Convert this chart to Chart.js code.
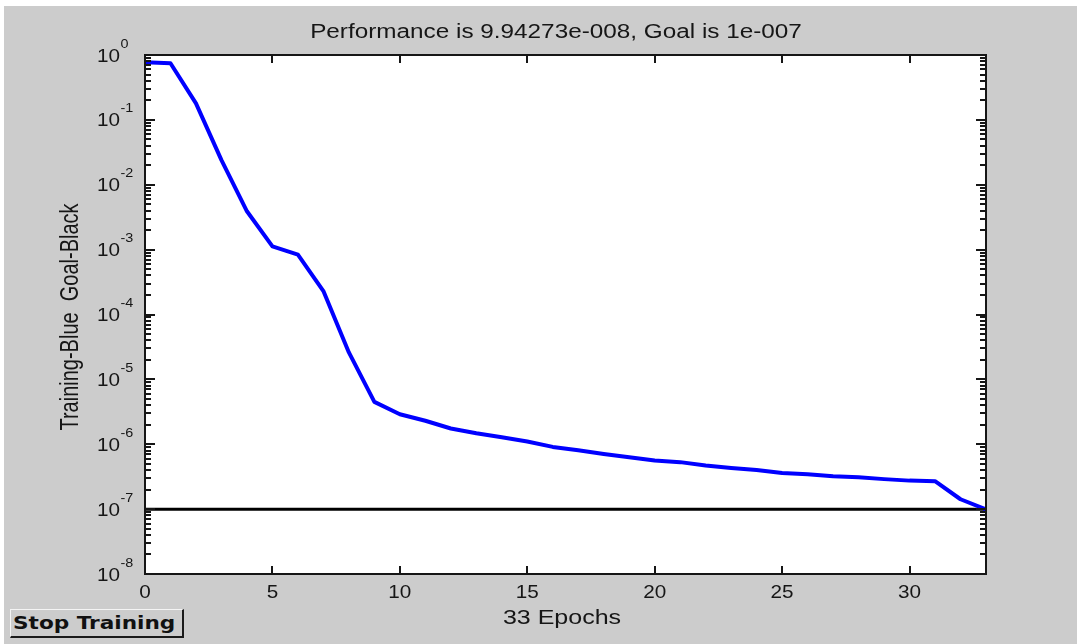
<!DOCTYPE html>
<html>
<head>
<meta charset="utf-8">
<script src="https://cdn.jsdelivr.net/npm/chart.js@4/dist/chart.umd.min.js"></script>
<style>
  html, body { margin: 0; padding: 0; background: #cccccc; }
  #wrap { position: relative; width: 1077px; height: 644px; overflow: hidden; }
  canvas { position: absolute; left: 0; top: 0; }
  #stop {
    position: absolute; left: 10px; top: 609px; width: 174px; height: 29px;
    background: #cccccc; box-sizing: border-box;
    border-top: 1px solid #f4f4f4; border-left: 1px solid #f4f4f4;
    border-right: 2px solid #1a1a1a; border-bottom: 2px solid #1a1a1a;
    font: bold 18px "DejaVu Sans", sans-serif; color: #111;
    line-height: 26px; white-space: nowrap;
  }
  #stop span { display: inline-block; transform: scaleX(1.2); transform-origin: left center; margin-left: 2px; }
</style>
</head>
<body>
<div id="wrap">
  <canvas id="c" width="1077" height="644"></canvas>
  <div id="stop"><span>Stop Training</span></div>
</div>
<script>
// ---- data ----
const epochs = [0,1,2,3,4,5,6,7,8,9,10,11,12,13,14,15,16,17,18,19,20,21,22,23,24,25,26,27,28,29,30,31,32,33];
const trainingPerf = [0.77, 0.745, 0.18, 0.024, 0.0039, 0.00112, 0.00084, 2.3e-4, 2.6e-5, 4.5e-6,
  2.9e-6, 2.3e-6, 1.75e-6, 1.48e-6, 1.28e-6, 1.1e-6, 9.1e-7, 8.1e-7, 7.1e-7, 6.3e-7,
  5.6e-7, 5.3e-7, 4.7e-7, 4.3e-7, 4.0e-7, 3.6e-7, 3.45e-7, 3.2e-7, 3.1e-7, 2.9e-7,
  2.75e-7, 2.7e-7, 1.42e-7, 9.94273e-8];
const goalValue = 1e-7;
const goalEpochs = [0, 33];
const xTicks = [0, 5, 10, 15, 20, 25, 30];
const yTickExponents = [-8, -7, -6, -5, -4, -3, -2, -1, 0];
const titleText = "Performance is 9.94273e-008, Goal is 1e-007";
const xTitle = "33 Epochs";
const yTitle = "Training-Blue  Goal-Black";

const INK = '#161616';
const FONT = '"Liberation Sans", Arial, sans-serif';

function txt(ctx, s, x, y, size, align, sx, weight) {
  ctx.save();
  ctx.font = (weight || 'normal') + ' ' + size + 'px ' + FONT;
  ctx.textAlign = align;
  ctx.textBaseline = 'alphabetic';
  ctx.fillStyle = INK;
  ctx.translate(x, y);
  ctx.scale(sx, 1);
  ctx.fillText(s, 0, 0);
  ctx.restore();
}

const matlabAxes = {
  id: 'matlabAxes',
  beforeDraw(chart) {
    const ctx = chart.ctx, a = chart.chartArea;
    ctx.save();
    ctx.fillStyle = '#cccccc';
    ctx.fillRect(0, 0, chart.width, chart.height);
    ctx.fillStyle = '#ffffff';
    ctx.fillRect(0, 0, chart.width, 6);
    ctx.fillRect(0, 0, 4, chart.height);
    ctx.fillRect(a.left, a.top, a.right - a.left, a.bottom - a.top);
    ctx.restore();
  },
  afterDatasetsDraw(chart) {
    const ctx = chart.ctx, a = chart.chartArea;
    const xs = chart.scales.x, ys = chart.scales.y;
    ctx.save();
    ctx.strokeStyle = INK;
    ctx.lineWidth = 2;
    ctx.beginPath();
    // y ticks (log): majors and minors, inward on both sides
    yTickExponents.forEach(e => {
      const y = Math.round(ys.getPixelForValue(Math.pow(10, e))) + 0.0;
      ctx.moveTo(a.left, y); ctx.lineTo(a.left + 10, y);
      ctx.moveTo(a.right, y); ctx.lineTo(a.right - 10, y);
      if (e < 0) {
        for (let m = 2; m <= 9; m++) {
          const ym = Math.round(ys.getPixelForValue(m * Math.pow(10, e)));
          ctx.moveTo(a.left, ym); ctx.lineTo(a.left + 6, ym);
          ctx.moveTo(a.right, ym); ctx.lineTo(a.right - 6, ym);
        }
      }
    });
    // x ticks
    xTicks.forEach(v => {
      const x = Math.round(xs.getPixelForValue(v));
      ctx.moveTo(x, a.bottom); ctx.lineTo(x, a.bottom - 8);
      ctx.moveTo(x, a.top); ctx.lineTo(x, a.top + 8);
    });
    ctx.stroke();
    ctx.strokeRect(a.left, a.top, a.right - a.left, a.bottom - a.top);
    ctx.restore();

    // y tick labels
    yTickExponents.forEach(e => {
      const y = ys.getPixelForValue(Math.pow(10, e));
      txt(ctx, '10', a.left - 25, y + 6.5, 18, 'right', 1.15);
      txt(ctx, String(e), a.left - 24.5, y - 7.5, 12.5, 'left', 1.15);
    });
    // x tick labels
    xTicks.forEach(v => {
      const x = xs.getPixelForValue(v);
      txt(ctx, String(v), x, a.bottom + 23.5, 18, 'center', 1.15);
    });
    // title
    txt(ctx, titleText, 556, 38, 20, 'center', 1.215);
    // x title
    txt(ctx, xTitle, 562, 624, 20, 'center', 1.25);
    // y title (rotated)
    ctx.save();
    ctx.translate(78, 317);
    ctx.rotate(-Math.PI / 2);
    ctx.scale(0.8, 1);
    ctx.font = '25px ' + FONT;
    ctx.textAlign = 'center';
    ctx.textBaseline = 'alphabetic';
    ctx.fillStyle = INK;
    ctx.fillText(yTitle, 0, 0);
    ctx.restore();
  }
};

new Chart(document.getElementById('c'), {
  type: 'line',
  data: {
    datasets: [
      {
        label: 'Training',
        data: epochs.map((e, i) => ({ x: e, y: trainingPerf[i] })),
        borderColor: '#0000ff',
        borderWidth: 4,
        pointRadius: 0,
        tension: 0,
        fill: false,
        borderJoinStyle: 'round',
        borderCapStyle: 'round'
      },
      {
        label: 'Goal',
        data: goalEpochs.map(e => ({ x: e, y: goalValue })),
        borderColor: '#000000',
        borderWidth: 3,
        pointRadius: 0,
        tension: 0,
        fill: false
      }
    ]
  },
  options: {
    responsive: false,
    devicePixelRatio: 1,
    animation: false,
    layout: { padding: { left: 145, right: 91, top: 55, bottom: 70 } },
    plugins: { legend: { display: false }, title: { display: false }, tooltip: { enabled: false } },
    scales: {
      x: {
        type: 'linear', min: 0, max: 33,
        ticks: { display: false }, grid: { display: false }, border: { display: false },
        afterFit(s) { s.height = 0; }
      },
      y: {
        type: 'logarithmic', min: 1e-8, max: 1,
        ticks: { display: false }, grid: { display: false }, border: { display: false },
        afterFit(s) { s.width = 0; }
      }
    }
  },
  plugins: [matlabAxes]
});
</script>
</body>
</html>
